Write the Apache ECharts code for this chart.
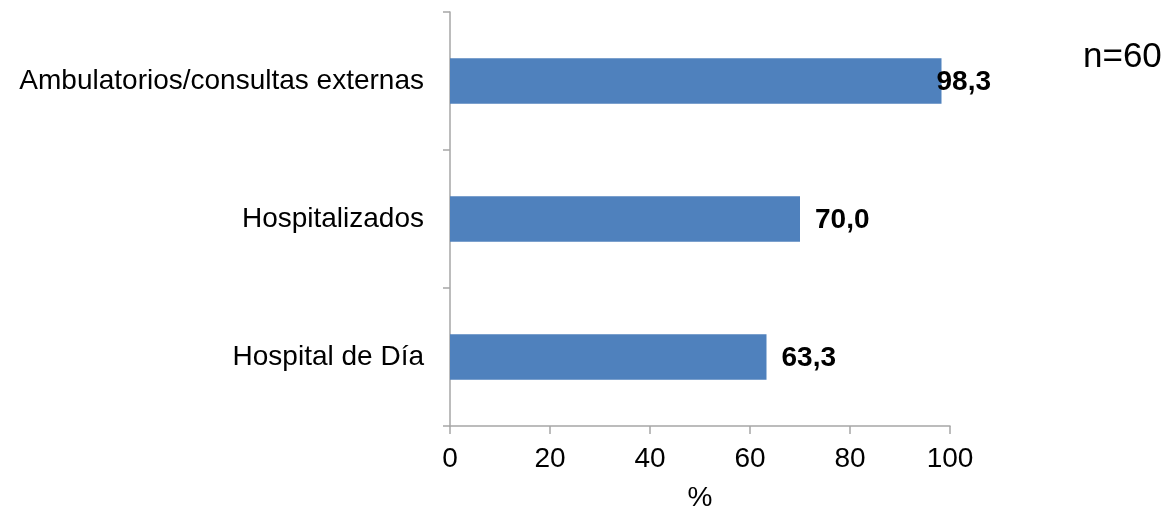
<!DOCTYPE html>
<html><head><meta charset="utf-8">
<script src="https://cdn.jsdelivr.net/npm/echarts@6/dist/echarts.min.js"></script>
<style>html,body{margin:0;padding:0;background:#fff}#c{width:1169px;height:509px}</style>
</head><body><div id="c"></div>
<script>
const categories = ['Hospital de Día', 'Hospitalizados', 'Ambulatorios/consultas externas'];
const values = [63.3, 70.0, 98.3];
const xTicks = [0, 20, 40, 60, 80, 100];
const note = 'n=60';
const axisName = '%';

const chart = echarts.init(document.getElementById('c'));
const font = "'Liberation Sans', Arial, sans-serif";
chart.setOption({
  animation: false,
  grid: {left: 450, right: 219, top: 12, bottom: 83, containLabel: false, outerBoundsMode: 'none'},
  xAxis: {
    type: 'value', min: xTicks[0], max: xTicks[xTicks.length-1], interval: 20,
    name: axisName, nameLocation: 'middle', nameGap: 58,
    nameTextStyle: {fontSize: 28, color: '#000', fontFamily: font},
    axisLine: {show: true, lineStyle: {color: '#a6a6a6', width: 1.5}},
    axisTick: {show: true, length: 8, lineStyle: {color: '#a6a6a6', width: 1.5}},
    axisLabel: {fontSize: 28, color: '#000', fontFamily: font, margin: 19},
    splitLine: {show: false}
  },
  yAxis: {
    type: 'category', data: categories,
    axisLine: {show: true, lineStyle: {color: '#a6a6a6', width: 1.5}},
    axisTick: {show: true, length: 7, lineStyle: {color: '#a6a6a6', width: 1.5}},
    axisLabel: {fontSize: 28, color: '#000', fontFamily: font, margin: 26}
  },
  series: [{
    type: 'bar', barWidth: '33%',
    data: values.map((v, i) => ({
      value: v,
      label: i === values.length - 1 ? {offset: [-20, 1]} : {offset: [0, 1]}
    })),
    itemStyle: {color: '#4f81bd'},
    label: {
      show: true, position: 'right', distance: 15,
      fontSize: 28, fontWeight: 'bold', color: '#000', fontFamily: font,
      formatter: p => p.value.toFixed(1).replace('.', ',')
    }
  }],
  graphic: [{
    type: 'text', left: 1083, top: 40,
    style: {text: note, fontSize: 35, fill: '#000', fontFamily: font}
  }]
});
</script></body></html>
